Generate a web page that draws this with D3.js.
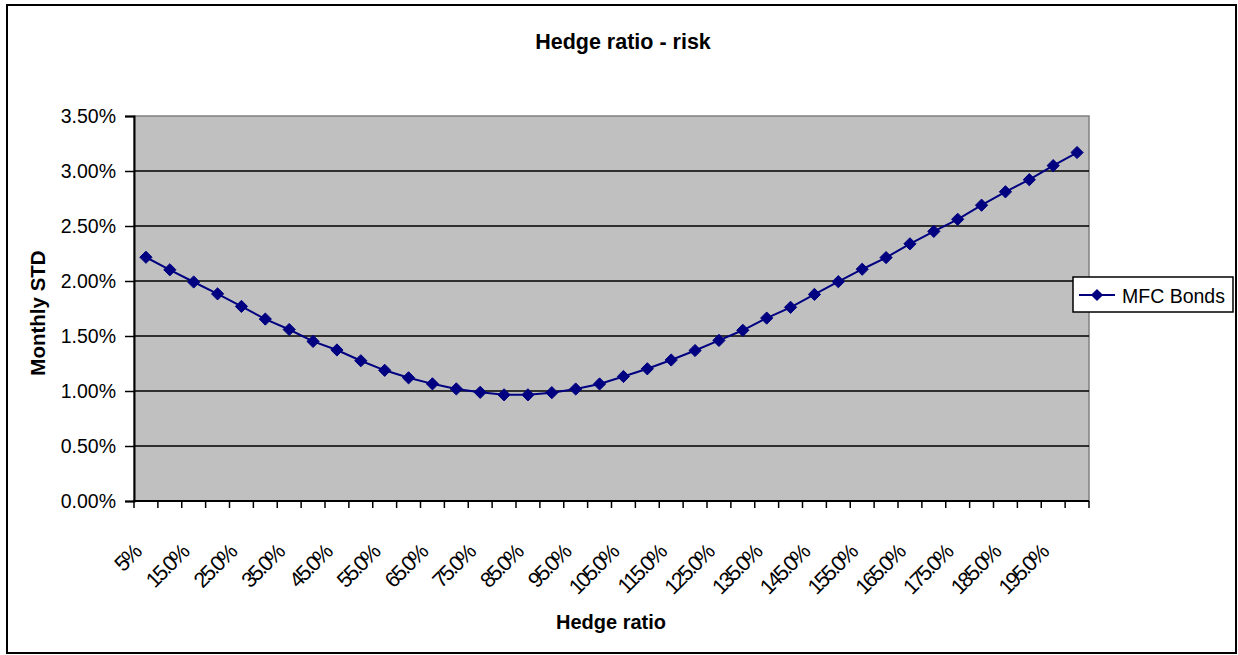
<!DOCTYPE html>
<html>
<head>
<meta charset="utf-8">
<script src="https://cdn.jsdelivr.net/npm/d3@7"></script>
<style>
  html, body { margin: 0; padding: 0; background: #ffffff; }
  svg { display: block; font-family: "Liberation Sans", Arial, sans-serif; }
</style>
</head>
<body>
<svg id="chart" width="1238" height="655"></svg>
<script>
// Hedge ratio categories (x axis)
const hedgeRatios = [
  "5%", "10.0%", "15.0%", "20.0%", "25.0%", "30.0%", "35.0%", "40.0%",
  "45.0%", "50.0%", "55.0%", "60.0%", "65.0%", "70.0%", "75.0%", "80.0%",
  "85.0%", "90.0%", "95.0%", "100.0%", "105.0%", "110.0%", "115.0%", "120.0%",
  "125.0%", "130.0%", "135.0%", "140.0%", "145.0%", "150.0%", "155.0%", "160.0%",
  "165.0%", "170.0%", "175.0%", "180.0%", "185.0%", "190.0%", "195.0%", "200.0%"
];

// Monthly standard deviation of the hedged position, in percent
const mfcBonds = [
  2.216, 2.102, 1.991, 1.883, 1.769, 1.654, 1.559, 1.451,
  1.373, 1.275, 1.188, 1.120, 1.065, 1.019, 0.988, 0.965,
  0.965, 0.985, 1.018, 1.064, 1.132, 1.202, 1.282, 1.368,
  1.460, 1.552, 1.663, 1.761, 1.878, 1.994, 2.107, 2.213,
  2.338, 2.451, 2.561, 2.689, 2.811, 2.921, 3.049, 3.168
];

// Value axis ticks, in percent
const yTicks = [0, 0.5, 1.0, 1.5, 2.0, 2.5, 3.0, 3.5];

const seriesName = "MFC Bonds";
const chartTitle = "Hedge ratio - risk";
const xTitle = "Hedge ratio";
const yTitle = "Monthly STD";

const svg = d3.select("#chart");

// Plot area
const plot = { left: 134, top: 116, right: 1089, bottom: 501 };

// Outer chart frame
svg.append("rect")
  .attr("x", 7).attr("y", 5)
  .attr("width", 1229).attr("height", 648)
  .attr("fill", "#ffffff")
  .attr("stroke", "#000000")
  .attr("stroke-width", 2);

const x = d3.scaleBand()
  .domain(hedgeRatios)
  .range([plot.left, plot.right])
  .paddingInner(0).paddingOuter(0);

const y = d3.scaleLinear()
  .domain([0, 3.5])
  .range([plot.bottom, plot.top]);

// Grey plot background with grey frame
svg.append("rect")
  .attr("x", plot.left).attr("y", plot.top)
  .attr("width", plot.right - plot.left)
  .attr("height", plot.bottom - plot.top)
  .attr("fill", "#c0c0c0")
  .attr("stroke", "#808080")
  .attr("stroke-width", 1.5);

// Horizontal gridlines
svg.append("g")
  .selectAll("line")
  .data(yTicks.filter(d => d > 0 && d < 3.5))
  .join("line")
  .attr("x1", plot.left).attr("x2", plot.right)
  .attr("y1", d => y(d)).attr("y2", d => y(d))
  .attr("stroke", "#000000")
  .attr("stroke-width", 1.5);

// Y axis
const yAxis = d3.axisLeft(y)
  .tickValues(yTicks)
  .tickFormat(d => d.toFixed(2) + "%")
  .tickSize(9)
  .tickPadding(9);

const gy = svg.append("g")
  .attr("transform", `translate(${plot.left},0)`)
  .call(yAxis);
gy.select(".domain").attr("stroke", "#000").attr("stroke-width", 2);
gy.selectAll(".tick line").attr("stroke", "#000").attr("stroke-width", 1.5);
gy.selectAll(".tick text")
  .attr("font-size", 19.5)
  .attr("fill", "#000")
  .attr("font-family", "'Liberation Sans', Arial, sans-serif");

// X axis: ticks on category boundaries
const boundaries = hedgeRatios.map(d => x(d)).concat([plot.right]);
const gx = svg.append("g");
gx.append("line")
  .attr("x1", plot.left - 1).attr("x2", plot.right)
  .attr("y1", plot.bottom).attr("y2", plot.bottom)
  .attr("stroke", "#000").attr("stroke-width", 2);
gx.selectAll("line.tick")
  .data(boundaries)
  .join("line")
  .attr("class", "tick")
  .attr("x1", d => d).attr("x2", d => d)
  .attr("y1", plot.bottom).attr("y2", plot.bottom + 7)
  .attr("stroke", "#000").attr("stroke-width", 1.5);

// Category labels, every second one, rotated
gx.selectAll("text")
  .data(hedgeRatios.filter((d, i) => i % 2 === 0))
  .join("text")
  .attr("transform", d => `translate(${x(d) + x.bandwidth() / 2 - 4},${plot.bottom + 53}) rotate(-45)`)
  .attr("text-anchor", "end")
  .attr("font-size", 21.5)
  .attr("letter-spacing", -2.3)
  .attr("fill", "#000")
  .text(d => d);

// Series line
const line = d3.line()
  .x((d, i) => x(hedgeRatios[i]) + x.bandwidth() / 2)
  .y(d => y(d));

svg.append("path")
  .datum(mfcBonds)
  .attr("d", line)
  .attr("fill", "none")
  .attr("stroke", "#000080")
  .attr("stroke-width", 2);

// Diamond markers
const diamond = d3.symbol().type(d3.symbolDiamond2).size(95);
svg.append("g")
  .selectAll("path")
  .data(mfcBonds)
  .join("path")
  .attr("transform", (d, i) => `translate(${x(hedgeRatios[i]) + x.bandwidth() / 2},${y(d)})`)
  .attr("d", diamond)
  .attr("fill", "#000080")
  .attr("stroke", "#000080")
  .attr("stroke-width", 1);

// Titles
svg.append("text")
  .attr("x", 623).attr("y", 49)
  .attr("text-anchor", "middle")
  .attr("font-size", 21.5)
  .attr("font-weight", "bold")
  .text(chartTitle);

svg.append("text")
  .attr("x", 611).attr("y", 629)
  .attr("text-anchor", "middle")
  .attr("font-size", 20)
  .attr("font-weight", "bold")
  .text(xTitle);

svg.append("text")
  .attr("transform", "translate(45,313) rotate(-90)")
  .attr("text-anchor", "middle")
  .attr("font-size", 20.5)
  .attr("font-weight", "bold")
  .text(yTitle);

// Legend
const legend = svg.append("g").attr("transform", "translate(1073,277)");
legend.append("rect")
  .attr("width", 160).attr("height", 35)
  .attr("fill", "#ffffff")
  .attr("stroke", "#000000")
  .attr("stroke-width", 1.5);
legend.append("line")
  .attr("x1", 6).attr("x2", 42)
  .attr("y1", 18).attr("y2", 18)
  .attr("stroke", "#000080").attr("stroke-width", 2);
legend.append("path")
  .attr("transform", "translate(24,18)")
  .attr("d", diamond)
  .attr("fill", "#000080");
legend.append("text")
  .attr("x", 49).attr("y", 26)
  .attr("font-size", 19.5)
  .attr("fill", "#000")
  .text(seriesName);
</script>
</body>
</html>
